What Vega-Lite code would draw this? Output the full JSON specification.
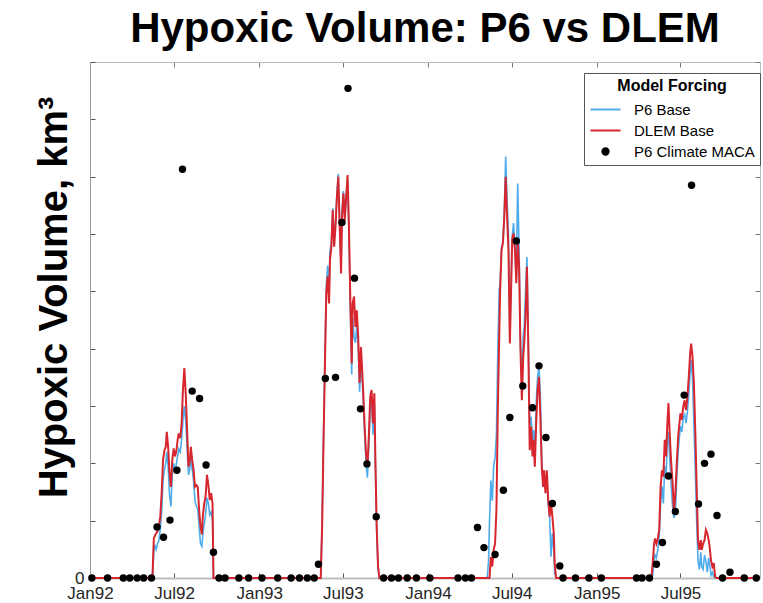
{
  "$schema": "https://vega.github.io/schema/vega-lite/v6.json",
  "width": 670,
  "height": 516,
  "autosize": {"type": "none"},
  "padding": {"left": 90, "top": 62, "right": 3, "bottom": 25},
  "background": "white",
  "config": {"view": {"stroke": null}, "font": "Liberation Sans"},
  "title": {"text": "Hypoxic Volume: P6 vs DLEM", "font": "Liberation Sans", "fontSize": 42, "fontWeight": "bold", "color": "black", "anchor": "middle", "frame": "group", "offset": 18, "dy": 40, "baseline": "alphabetic"},
  "datasets": {
    "p6": [
      {"date": "1992-01-01", "value": 0},
      {"date": "1992-05-15", "value": 0}, {"date": "1992-05-18", "value": 0.45}, {"date": "1992-05-20", "value": 0.58}, {"date": "1992-05-23", "value": 0.5}, {"date": "1992-05-26", "value": 0.6}, {"date": "1992-05-29", "value": 0.65}, {"date": "1992-06-01", "value": 0.85}, {"date": "1992-06-04", "value": 1.15}, {"date": "1992-06-07", "value": 1.7}, {"date": "1992-06-10", "value": 1.9}, {"date": "1992-06-13", "value": 2.0}, {"date": "1992-06-15", "value": 2.2}, {"date": "1992-06-18", "value": 1.95}, {"date": "1992-06-21", "value": 1.45}, {"date": "1992-06-24", "value": 1.25}, {"date": "1992-06-27", "value": 1.8}, {"date": "1992-06-30", "value": 2.0}, {"date": "1992-07-03", "value": 1.85}, {"date": "1992-07-06", "value": 2.0}, {"date": "1992-07-09", "value": 2.15}, {"date": "1992-07-11", "value": 2.25}, {"date": "1992-07-14", "value": 2.2}, {"date": "1992-07-17", "value": 2.4}, {"date": "1992-07-20", "value": 2.75}, {"date": "1992-07-23", "value": 3.0}, {"date": "1992-07-26", "value": 2.75}, {"date": "1992-07-29", "value": 2.25}, {"date": "1992-08-01", "value": 1.8}, {"date": "1992-08-04", "value": 1.9}, {"date": "1992-08-06", "value": 2.1}, {"date": "1992-08-09", "value": 1.9}, {"date": "1992-08-12", "value": 1.7}, {"date": "1992-08-15", "value": 1.35}, {"date": "1992-08-18", "value": 1.25}, {"date": "1992-08-21", "value": 1.2}, {"date": "1992-08-24", "value": 0.9}, {"date": "1992-08-27", "value": 0.6}, {"date": "1992-08-30", "value": 0.55}, {"date": "1992-09-01", "value": 0.75}, {"date": "1992-09-04", "value": 0.95}, {"date": "1992-09-07", "value": 1.1}, {"date": "1992-09-10", "value": 1.4}, {"date": "1992-09-13", "value": 1.3}, {"date": "1992-09-16", "value": 1.1}, {"date": "1992-09-19", "value": 1.15}, {"date": "1992-09-22", "value": 1.0}, {"date": "1992-09-24", "value": 0},
      {"date": "1993-05-14", "value": 0}, {"date": "1993-05-17", "value": 1.0}, {"date": "1993-05-20", "value": 2.5}, {"date": "1993-05-23", "value": 3.8}, {"date": "1993-05-26", "value": 5.1}, {"date": "1993-05-29", "value": 5.45}, {"date": "1993-06-01", "value": 5.0}, {"date": "1993-06-03", "value": 5.7}, {"date": "1993-06-06", "value": 5.85}, {"date": "1993-06-09", "value": 6.45}, {"date": "1993-06-12", "value": 5.9}, {"date": "1993-06-15", "value": 6.2}, {"date": "1993-06-18", "value": 6.7}, {"date": "1993-06-21", "value": 7.05}, {"date": "1993-06-24", "value": 6.2}, {"date": "1993-06-27", "value": 5.45}, {"date": "1993-06-29", "value": 6.4}, {"date": "1993-07-02", "value": 6.75}, {"date": "1993-07-05", "value": 6.3}, {"date": "1993-07-08", "value": 6.6}, {"date": "1993-07-11", "value": 6.95}, {"date": "1993-07-14", "value": 6.0}, {"date": "1993-07-17", "value": 4.7}, {"date": "1993-07-20", "value": 3.55}, {"date": "1993-07-22", "value": 4.55}, {"date": "1993-07-25", "value": 4.2}, {"date": "1993-07-28", "value": 4.1}, {"date": "1993-07-31", "value": 4.4}, {"date": "1993-08-03", "value": 4.05}, {"date": "1993-08-06", "value": 3.25}, {"date": "1993-08-09", "value": 3.85}, {"date": "1993-08-12", "value": 3.4}, {"date": "1993-08-14", "value": 3.1}, {"date": "1993-08-17", "value": 2.5}, {"date": "1993-08-20", "value": 2.0}, {"date": "1993-08-23", "value": 1.75}, {"date": "1993-08-26", "value": 2.3}, {"date": "1993-08-29", "value": 2.95}, {"date": "1993-09-01", "value": 3.1}, {"date": "1993-09-04", "value": 2.5}, {"date": "1993-09-07", "value": 3.05}, {"date": "1993-09-09", "value": 2.0}, {"date": "1993-09-12", "value": 0.8}, {"date": "1993-09-15", "value": 0.15}, {"date": "1993-09-18", "value": 0},
      {"date": "1994-05-09", "value": 0}, {"date": "1994-05-12", "value": 0.3}, {"date": "1994-05-14", "value": 1.0}, {"date": "1994-05-17", "value": 1.7}, {"date": "1994-05-20", "value": 1.35}, {"date": "1994-05-23", "value": 1.95}, {"date": "1994-05-26", "value": 2.1}, {"date": "1994-05-29", "value": 2.5}, {"date": "1994-06-01", "value": 3.98}, {"date": "1994-06-04", "value": 5.02}, {"date": "1994-06-06", "value": 5.14}, {"date": "1994-06-09", "value": 5.78}, {"date": "1994-06-12", "value": 5.84}, {"date": "1994-06-15", "value": 6.42}, {"date": "1994-06-18", "value": 7.35}, {"date": "1994-06-21", "value": 6.6}, {"date": "1994-06-24", "value": 6.01}, {"date": "1994-06-27", "value": 4.21}, {"date": "1994-06-30", "value": 5.26}, {"date": "1994-07-02", "value": 5.96}, {"date": "1994-07-05", "value": 6.19}, {"date": "1994-07-08", "value": 5.84}, {"date": "1994-07-11", "value": 5.31}, {"date": "1994-07-14", "value": 6.88}, {"date": "1994-07-17", "value": 5.72}, {"date": "1994-07-20", "value": 4.09}, {"date": "1994-07-23", "value": 3.39}, {"date": "1994-07-26", "value": 4.21}, {"date": "1994-07-28", "value": 4.38}, {"date": "1994-07-31", "value": 5.02}, {"date": "1994-08-03", "value": 5.6}, {"date": "1994-08-06", "value": 4.15}, {"date": "1994-08-09", "value": 2.64}, {"date": "1994-08-12", "value": 2.81}, {"date": "1994-08-15", "value": 2.41}, {"date": "1994-08-17", "value": 2.58}, {"date": "1994-08-20", "value": 2.23}, {"date": "1994-08-23", "value": 3.05}, {"date": "1994-08-26", "value": 3.51}, {"date": "1994-08-29", "value": 3.69}, {"date": "1994-09-01", "value": 3.16}, {"date": "1994-09-04", "value": 2.06}, {"date": "1994-09-07", "value": 1.71}, {"date": "1994-09-09", "value": 1.77}, {"date": "1994-09-12", "value": 1.65}, {"date": "1994-09-15", "value": 1.65}, {"date": "1994-09-18", "value": 1.3}, {"date": "1994-09-21", "value": 1.07}, {"date": "1994-09-24", "value": 0.37}, {"date": "1994-09-27", "value": 0.78}, {"date": "1994-09-30", "value": 0.49}, {"date": "1994-10-02", "value": 0.08}, {"date": "1994-10-05", "value": 0},
      {"date": "1995-04-26", "value": 0}, {"date": "1995-04-29", "value": 0}, {"date": "1995-05-02", "value": 0.05}, {"date": "1995-05-05", "value": 0.3}, {"date": "1995-05-07", "value": 0.4}, {"date": "1995-05-10", "value": 0.35}, {"date": "1995-05-13", "value": 0.5}, {"date": "1995-05-16", "value": 0.7}, {"date": "1995-05-19", "value": 1.3}, {"date": "1995-05-22", "value": 1.6}, {"date": "1995-05-25", "value": 1.3}, {"date": "1995-05-28", "value": 1.95}, {"date": "1995-05-31", "value": 1.75}, {"date": "1995-06-02", "value": 2.25}, {"date": "1995-06-05", "value": 2.55}, {"date": "1995-06-08", "value": 2.05}, {"date": "1995-06-11", "value": 1.6}, {"date": "1995-06-14", "value": 1.25}, {"date": "1995-06-17", "value": 1.05}, {"date": "1995-06-20", "value": 1.15}, {"date": "1995-06-23", "value": 1.75}, {"date": "1995-06-26", "value": 2.2}, {"date": "1995-06-28", "value": 2.4}, {"date": "1995-07-01", "value": 2.65}, {"date": "1995-07-04", "value": 2.55}, {"date": "1995-07-07", "value": 2.8}, {"date": "1995-07-10", "value": 2.85}, {"date": "1995-07-13", "value": 2.7}, {"date": "1995-07-16", "value": 2.9}, {"date": "1995-07-19", "value": 3.2}, {"date": "1995-07-22", "value": 3.6}, {"date": "1995-07-24", "value": 3.8}, {"date": "1995-07-27", "value": 3.5}, {"date": "1995-07-30", "value": 2.7}, {"date": "1995-08-02", "value": 1.9}, {"date": "1995-08-05", "value": 1.0}, {"date": "1995-08-08", "value": 0.3}, {"date": "1995-08-11", "value": 0.15}, {"date": "1995-08-14", "value": 0.45}, {"date": "1995-08-16", "value": 0.2}, {"date": "1995-08-19", "value": 0.15}, {"date": "1995-08-22", "value": 0.4}, {"date": "1995-08-25", "value": 0.3}, {"date": "1995-08-28", "value": 0.1}, {"date": "1995-08-31", "value": 0.35}, {"date": "1995-09-02", "value": 0.25}, {"date": "1995-09-05", "value": 0.05}, {"date": "1995-09-08", "value": 0.1}, {"date": "1995-09-11", "value": 0.02}, {"date": "1995-09-14", "value": 0}, {"date": "1995-09-17", "value": 0},
      {"date": "1995-12-20", "value": 0}
    ],
    "dlem": [
      {"date": "1992-01-01", "value": 0},
      {"date": "1992-05-15", "value": 0}, {"date": "1992-05-18", "value": 0.69}, {"date": "1992-05-20", "value": 0.73}, {"date": "1992-05-23", "value": 0.78}, {"date": "1992-05-26", "value": 0.81}, {"date": "1992-05-29", "value": 0.9}, {"date": "1992-06-01", "value": 1.07}, {"date": "1992-06-04", "value": 1.48}, {"date": "1992-06-07", "value": 2.06}, {"date": "1992-06-10", "value": 2.23}, {"date": "1992-06-13", "value": 2.29}, {"date": "1992-06-15", "value": 2.55}, {"date": "1992-06-18", "value": 2.29}, {"date": "1992-06-21", "value": 1.83}, {"date": "1992-06-24", "value": 1.59}, {"date": "1992-06-27", "value": 2.06}, {"date": "1992-06-30", "value": 2.26}, {"date": "1992-07-03", "value": 2.12}, {"date": "1992-07-06", "value": 2.23}, {"date": "1992-07-09", "value": 2.44}, {"date": "1992-07-11", "value": 2.52}, {"date": "1992-07-14", "value": 2.44}, {"date": "1992-07-17", "value": 2.67}, {"date": "1992-07-20", "value": 3.28}, {"date": "1992-07-23", "value": 3.66}, {"date": "1992-07-26", "value": 3.22}, {"date": "1992-07-29", "value": 2.58}, {"date": "1992-08-01", "value": 1.94}, {"date": "1992-08-04", "value": 2.06}, {"date": "1992-08-06", "value": 2.29}, {"date": "1992-08-09", "value": 2.06}, {"date": "1992-08-12", "value": 1.88}, {"date": "1992-08-15", "value": 1.59}, {"date": "1992-08-18", "value": 1.62}, {"date": "1992-08-21", "value": 1.59}, {"date": "1992-08-24", "value": 1.19}, {"date": "1992-08-27", "value": 0.9}, {"date": "1992-08-30", "value": 0.76}, {"date": "1992-09-01", "value": 1.07}, {"date": "1992-09-04", "value": 1.3}, {"date": "1992-09-07", "value": 1.42}, {"date": "1992-09-10", "value": 1.8}, {"date": "1992-09-13", "value": 1.62}, {"date": "1992-09-16", "value": 1.36}, {"date": "1992-09-19", "value": 1.48}, {"date": "1992-09-22", "value": 1.3}, {"date": "1992-09-24", "value": 0},
      {"date": "1993-05-14", "value": 0}, {"date": "1993-05-17", "value": 0.9}, {"date": "1993-05-20", "value": 2.35}, {"date": "1993-05-23", "value": 3.69}, {"date": "1993-05-26", "value": 4.97}, {"date": "1993-05-29", "value": 5.26}, {"date": "1993-06-01", "value": 4.79}, {"date": "1993-06-03", "value": 5.55}, {"date": "1993-06-06", "value": 5.78}, {"date": "1993-06-09", "value": 6.42}, {"date": "1993-06-12", "value": 5.78}, {"date": "1993-06-15", "value": 6.13}, {"date": "1993-06-18", "value": 6.65}, {"date": "1993-06-21", "value": 7.0}, {"date": "1993-06-24", "value": 6.13}, {"date": "1993-06-27", "value": 5.31}, {"date": "1993-06-29", "value": 6.3}, {"date": "1993-07-02", "value": 6.71}, {"date": "1993-07-05", "value": 6.24}, {"date": "1993-07-08", "value": 6.65}, {"date": "1993-07-11", "value": 7.03}, {"date": "1993-07-14", "value": 6.13}, {"date": "1993-07-17", "value": 4.85}, {"date": "1993-07-20", "value": 3.74}, {"date": "1993-07-22", "value": 4.79}, {"date": "1993-07-25", "value": 4.91}, {"date": "1993-07-28", "value": 4.38}, {"date": "1993-07-31", "value": 4.67}, {"date": "1993-08-03", "value": 4.21}, {"date": "1993-08-06", "value": 3.4}, {"date": "1993-08-09", "value": 4.03}, {"date": "1993-08-12", "value": 3.57}, {"date": "1993-08-14", "value": 3.22}, {"date": "1993-08-17", "value": 2.64}, {"date": "1993-08-20", "value": 2.17}, {"date": "1993-08-23", "value": 1.94}, {"date": "1993-08-26", "value": 2.47}, {"date": "1993-08-29", "value": 3.16}, {"date": "1993-09-01", "value": 3.28}, {"date": "1993-09-04", "value": 2.7}, {"date": "1993-09-07", "value": 3.22}, {"date": "1993-09-09", "value": 2.17}, {"date": "1993-09-12", "value": 0.9}, {"date": "1993-09-15", "value": 0.2}, {"date": "1993-09-18", "value": 0},
      {"date": "1994-05-09", "value": 0}, {"date": "1994-05-12", "value": 0}, {"date": "1994-05-14", "value": 0}, {"date": "1994-05-17", "value": 0.37}, {"date": "1994-05-20", "value": 0.2}, {"date": "1994-05-23", "value": 0.49}, {"date": "1994-05-26", "value": 0.6}, {"date": "1994-05-29", "value": 1.19}, {"date": "1994-06-01", "value": 2.93}, {"date": "1994-06-04", "value": 4.21}, {"date": "1994-06-06", "value": 5.02}, {"date": "1994-06-09", "value": 5.72}, {"date": "1994-06-12", "value": 5.84}, {"date": "1994-06-15", "value": 6.3}, {"date": "1994-06-18", "value": 7.0}, {"date": "1994-06-21", "value": 6.3}, {"date": "1994-06-24", "value": 5.72}, {"date": "1994-06-27", "value": 4.09}, {"date": "1994-06-30", "value": 5.14}, {"date": "1994-07-02", "value": 5.9}, {"date": "1994-07-05", "value": 6.01}, {"date": "1994-07-08", "value": 5.72}, {"date": "1994-07-11", "value": 5.14}, {"date": "1994-07-14", "value": 5.9}, {"date": "1994-07-17", "value": 5.43}, {"date": "1994-07-20", "value": 3.98}, {"date": "1994-07-23", "value": 3.1}, {"date": "1994-07-26", "value": 3.86}, {"date": "1994-07-28", "value": 4.09}, {"date": "1994-07-31", "value": 4.56}, {"date": "1994-08-03", "value": 5.43}, {"date": "1994-08-06", "value": 3.98}, {"date": "1994-08-09", "value": 2.23}, {"date": "1994-08-12", "value": 2.64}, {"date": "1994-08-15", "value": 2.12}, {"date": "1994-08-17", "value": 2.41}, {"date": "1994-08-20", "value": 1.94}, {"date": "1994-08-23", "value": 2.7}, {"date": "1994-08-26", "value": 3.28}, {"date": "1994-08-29", "value": 3.51}, {"date": "1994-09-01", "value": 2.81}, {"date": "1994-09-04", "value": 1.94}, {"date": "1994-09-07", "value": 1.59}, {"date": "1994-09-09", "value": 1.88}, {"date": "1994-09-12", "value": 1.48}, {"date": "1994-09-15", "value": 1.88}, {"date": "1994-09-18", "value": 1.36}, {"date": "1994-09-21", "value": 1.07}, {"date": "1994-09-24", "value": 1.3}, {"date": "1994-09-27", "value": 1.07}, {"date": "1994-09-30", "value": 0.78}, {"date": "1994-10-02", "value": 0.26}, {"date": "1994-10-05", "value": 0},
      {"date": "1995-04-26", "value": 0}, {"date": "1995-04-29", "value": 0}, {"date": "1995-05-02", "value": 0.26}, {"date": "1995-05-05", "value": 0.6}, {"date": "1995-05-07", "value": 0.69}, {"date": "1995-05-10", "value": 0.6}, {"date": "1995-05-13", "value": 0.69}, {"date": "1995-05-16", "value": 0.84}, {"date": "1995-05-19", "value": 1.59}, {"date": "1995-05-22", "value": 1.88}, {"date": "1995-05-25", "value": 1.77}, {"date": "1995-05-28", "value": 2.41}, {"date": "1995-05-31", "value": 2.12}, {"date": "1995-06-02", "value": 2.58}, {"date": "1995-06-05", "value": 3.05}, {"date": "1995-06-08", "value": 2.47}, {"date": "1995-06-11", "value": 2.0}, {"date": "1995-06-14", "value": 1.65}, {"date": "1995-06-17", "value": 1.15}, {"date": "1995-06-20", "value": 1.48}, {"date": "1995-06-23", "value": 2.0}, {"date": "1995-06-26", "value": 2.47}, {"date": "1995-06-28", "value": 2.64}, {"date": "1995-07-01", "value": 2.87}, {"date": "1995-07-04", "value": 2.76}, {"date": "1995-07-07", "value": 2.99}, {"date": "1995-07-10", "value": 3.1}, {"date": "1995-07-13", "value": 2.93}, {"date": "1995-07-16", "value": 3.16}, {"date": "1995-07-19", "value": 3.51}, {"date": "1995-07-22", "value": 3.92}, {"date": "1995-07-24", "value": 4.09}, {"date": "1995-07-27", "value": 3.86}, {"date": "1995-07-30", "value": 3.4}, {"date": "1995-08-02", "value": 2.58}, {"date": "1995-08-05", "value": 1.59}, {"date": "1995-08-08", "value": 0.66}, {"date": "1995-08-11", "value": 0.49}, {"date": "1995-08-14", "value": 0.66}, {"date": "1995-08-16", "value": 0.49}, {"date": "1995-08-19", "value": 0.6}, {"date": "1995-08-22", "value": 0.66}, {"date": "1995-08-25", "value": 0.84}, {"date": "1995-08-28", "value": 0.78}, {"date": "1995-08-31", "value": 0.66}, {"date": "1995-09-02", "value": 0.55}, {"date": "1995-09-05", "value": 0.31}, {"date": "1995-09-08", "value": 0.2}, {"date": "1995-09-11", "value": 0.26}, {"date": "1995-09-14", "value": 0.02}, {"date": "1995-09-17", "value": 0},
      {"date": "1995-12-20", "value": 0}
    ],
    "maca": [
      {"date": "1992-01-05", "value": 0}, {"date": "1992-02-08", "value": 0}, {"date": "1992-03-13", "value": 0}, {"date": "1992-03-27", "value": 0}, {"date": "1992-04-12", "value": 0}, {"date": "1992-04-26", "value": 0}, {"date": "1992-05-13", "value": 0}, {"date": "1992-05-25", "value": 0.89}, {"date": "1992-06-08", "value": 0.71}, {"date": "1992-06-22", "value": 1.01}, {"date": "1992-07-07", "value": 1.88}, {"date": "1992-07-19", "value": 7.13}, {"date": "1992-08-09", "value": 3.26}, {"date": "1992-08-25", "value": 3.13}, {"date": "1992-09-08", "value": 1.97}, {"date": "1992-09-24", "value": 0.45}, {"date": "1992-10-06", "value": 0}, {"date": "1992-10-19", "value": 0}, {"date": "1992-11-18", "value": 0}, {"date": "1992-12-09", "value": 0},
      {"date": "1993-01-07", "value": 0}, {"date": "1993-02-10", "value": 0}, {"date": "1993-03-11", "value": 0}, {"date": "1993-03-29", "value": 0}, {"date": "1993-04-15", "value": 0}, {"date": "1993-04-30", "value": 0}, {"date": "1993-05-09", "value": 0.24}, {"date": "1993-05-24", "value": 3.48}, {"date": "1993-06-15", "value": 3.5}, {"date": "1993-06-29", "value": 6.2}, {"date": "1993-07-12", "value": 8.54}, {"date": "1993-07-26", "value": 5.23}, {"date": "1993-08-08", "value": 2.95}, {"date": "1993-08-22", "value": 1.99}, {"date": "1993-09-11", "value": 1.07}, {"date": "1993-09-27", "value": 0}, {"date": "1993-10-14", "value": 0}, {"date": "1993-10-29", "value": 0}, {"date": "1993-11-17", "value": 0}, {"date": "1993-12-07", "value": 0},
      {"date": "1994-01-05", "value": 0}, {"date": "1994-03-07", "value": 0}, {"date": "1994-03-23", "value": 0}, {"date": "1994-04-05", "value": 0}, {"date": "1994-04-18", "value": 0.88}, {"date": "1994-05-02", "value": 0.53}, {"date": "1994-05-26", "value": 0.41}, {"date": "1994-06-13", "value": 1.53}, {"date": "1994-06-27", "value": 2.8}, {"date": "1994-07-11", "value": 5.88}, {"date": "1994-07-25", "value": 3.35}, {"date": "1994-08-15", "value": 2.97}, {"date": "1994-08-29", "value": 3.7}, {"date": "1994-09-13", "value": 2.45}, {"date": "1994-09-27", "value": 1.3}, {"date": "1994-10-13", "value": 0.21}, {"date": "1994-10-20", "value": 0}, {"date": "1994-11-16", "value": 0}, {"date": "1994-12-15", "value": 0},
      {"date": "1995-01-11", "value": 0}, {"date": "1995-03-28", "value": 0}, {"date": "1995-04-09", "value": 0}, {"date": "1995-04-25", "value": 0}, {"date": "1995-05-10", "value": 0.24}, {"date": "1995-05-23", "value": 0.62}, {"date": "1995-06-05", "value": 1.78}, {"date": "1995-06-20", "value": 1.16}, {"date": "1995-07-09", "value": 3.19}, {"date": "1995-07-25", "value": 6.85}, {"date": "1995-08-09", "value": 1.29}, {"date": "1995-08-22", "value": 2.0}, {"date": "1995-09-05", "value": 2.16}, {"date": "1995-09-18", "value": 1.09}, {"date": "1995-09-30", "value": 0}, {"date": "1995-10-16", "value": 0.1}, {"date": "1995-11-16", "value": 0}, {"date": "1995-12-12", "value": 0}
    ]
  },
  "layer": [
    {
      "data": {"name": "p6"},
      "mark": {"type": "line", "strokeWidth": 1.6},
      "encoding": {
        "x": {
          "field": "date", "type": "temporal",
          "scale": {"type": "utc", "domain": [{"year": 1992, "month": 1, "date": 1, "utc": true}, {"year": 1995, "month": 12, "date": 20, "utc": true}]},
          "axis": {
            "orient": "bottom", "title": null, "grid": false,
            "labelExpr": "utcFormat(datum.value, '%b%y')",
            "values": [{"year": 1992, "month": 1, "date": 1, "utc": true}, {"year": 1992, "month": 7, "date": 1, "utc": true}, {"year": 1993, "month": 1, "date": 1, "utc": true}, {"year": 1993, "month": 7, "date": 1, "utc": true}, {"year": 1994, "month": 1, "date": 1, "utc": true}, {"year": 1994, "month": 7, "date": 1, "utc": true}, {"year": 1995, "month": 1, "date": 1, "utc": true}, {"year": 1995, "month": 7, "date": 1, "utc": true}],
            "tickSize": -5, "tickColor": "#555555", "domainColor": "#bdbdbd", "domainWidth": 2,
            "labelFont": "Liberation Sans", "labelFontSize": 17, "labelColor": "#262626", "labelPadding": 12,
            "labelFlush": false, "labelOverlap": false
          }
        },
        "y": {
          "field": "value", "type": "quantitative",
          "scale": {"domain": [0, 9], "nice": false, "zero": true},
          "axis": {
            "orient": "left", "grid": false, "values": [0, 1, 2, 3, 4, 5, 6, 7, 8, 9],
            "labelExpr": "datum.value === 0 ? '0' : ''",
            "tickSize": -5, "tickColor": "#555555", "domainColor": "#9a9a9a",
            "labelFont": "Liberation Sans", "labelFontSize": 17, "labelColor": "#262626", "labelPadding": 11,
            "title": "Hypoxic Volume, km³", "titleFont": "Liberation Sans", "titleFontSize": 40, "titleFontWeight": "bold", "titleColor": "black",
            "titleAngle": -90, "titleAlign": "center", "titleBaseline": "alphabetic", "titleX": -24, "titleY": 235
          }
        },
        "color": {
          "datum": "P6 Base",
          "scale": {"domain": ["P6 Base", "DLEM Base", "P6 Climate MACA"], "range": ["#4FACEB", "#D7262E", "#000000"]},
          "legend": {
            "orient": "none", "legendX": 494, "legendY": 11,
            "title": "Model Forcing", "titleFont": "Liberation Sans", "titleFontSize": 16, "titleFontWeight": "bold", "titleColor": "black",
            "titleAnchor": "middle", "titlePadding": 8,
            "labelFont": "Liberation Sans", "labelFontSize": 15, "labelColor": "black",
            "strokeColor": "#555555", "fillColor": "white", "padding": 5, "rowPadding": 5,
            "symbolSize": 100, "symbolStrokeWidth": 2, "symbolOffset": 9, "labelOffset": 21, "symbolType": "M-3,0H3",
            "encode": {
              "symbols": {
                "update": {
                  "shape": {"signal": "datum.value === 'P6 Climate MACA' ? 'circle' : 'M-3,0H3'"},
                  "size": {"signal": "datum.value === 'P6 Climate MACA' ? 40 : 100"},
                  "fill": {"signal": "datum.value === 'P6 Climate MACA' ? 'black' : 'transparent'"},
                  "stroke": {"signal": "datum.value === 'P6 Base' ? '#4FACEB' : (datum.value === 'DLEM Base' ? '#D7262E' : 'transparent')"},
                  "strokeWidth": {"value": 2},
                  "opacity": {"value": 1}
                }
              }
            }
          }
        }
      }
    },
    {
      "data": {"name": "dlem"},
      "mark": {"type": "line", "strokeWidth": 2},
      "encoding": {
        "x": {"field": "date", "type": "temporal", "axis": null},
        "y": {"field": "value", "type": "quantitative", "axis": null},
        "color": {"datum": "DLEM Base"}
      }
    },
    {
      "data": {"name": "maca"},
      "mark": {"type": "point", "filled": true, "size": 55, "opacity": 1},
      "encoding": {
        "x": {
          "field": "date", "type": "temporal",
          "axis": {
            "orient": "top", "title": null, "grid": false, "labels": false,
            "values": [{"year": 1992, "month": 1, "date": 1, "utc": true}, {"year": 1992, "month": 7, "date": 1, "utc": true}, {"year": 1993, "month": 1, "date": 1, "utc": true}, {"year": 1993, "month": 7, "date": 1, "utc": true}, {"year": 1994, "month": 1, "date": 1, "utc": true}, {"year": 1994, "month": 7, "date": 1, "utc": true}, {"year": 1995, "month": 1, "date": 1, "utc": true}, {"year": 1995, "month": 7, "date": 1, "utc": true}],
            "tickSize": -5, "tickColor": "#777777", "domainColor": "#bdbdbd"
          }
        },
        "y": {
          "field": "value", "type": "quantitative",
          "axis": {"orient": "right", "title": null, "grid": false, "labels": false, "values": [0, 1, 2, 3, 4, 5, 6, 7, 8, 9], "tickSize": -5, "tickColor": "#777777", "domainColor": "#bdbdbd"}
        },
        "color": {"datum": "P6 Climate MACA"}
      }
    }
  ],
  "resolve": {"axis": {"x": "independent", "y": "independent"}}
}
